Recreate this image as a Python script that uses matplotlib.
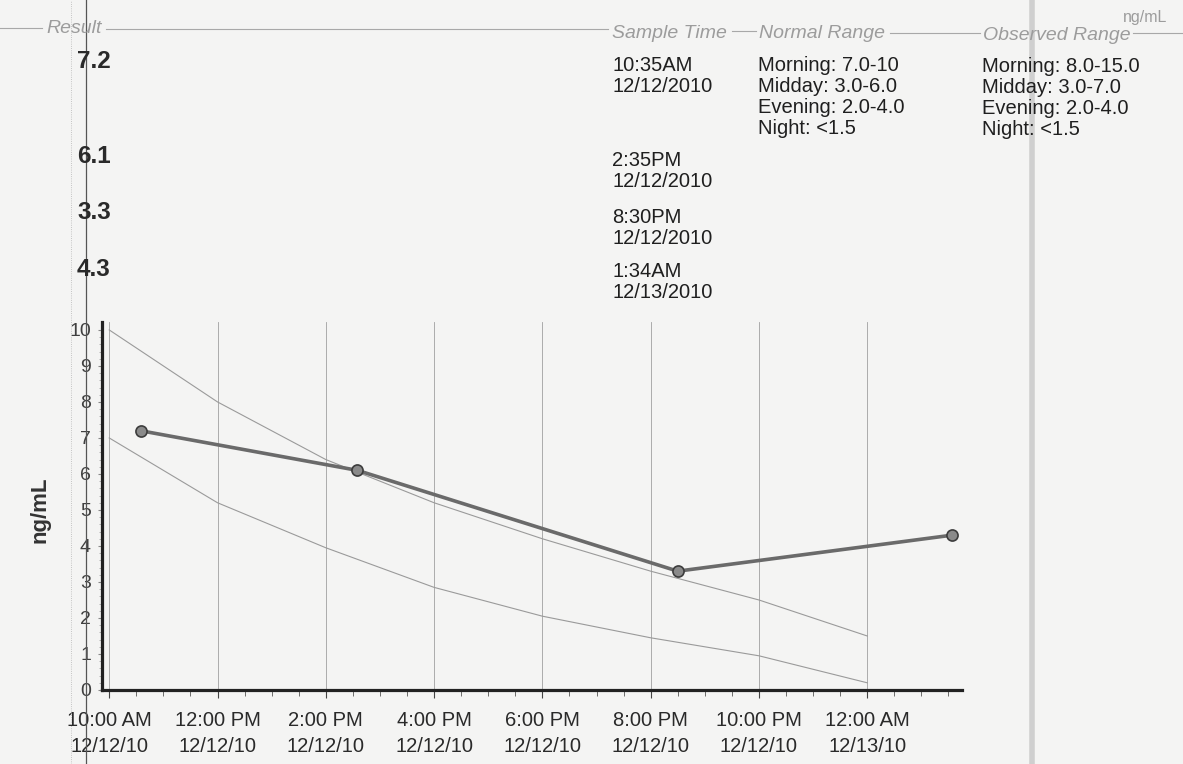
import pandas as pd
import matplotlib.pyplot as plt
import matplotlib.dates as mdates
from matplotlib.lines import Line2D

# sample results
sample_times = ["2010-12-12 10:35", "2010-12-12 14:35", "2010-12-12 20:30", "2010-12-13 01:34"]
results = [7.2, 6.1, 3.3, 4.3]
time_text = ["10:35AM", "2:35PM", "8:30PM", "1:34AM"]
date_text = ["12/12/2010", "12/12/2010", "12/12/2010", "12/13/2010"]

# normal range band (read at each 2h grid line)
range_times = ["2010-12-12 10:00", "2010-12-12 12:00", "2010-12-12 14:00", "2010-12-12 16:00",
               "2010-12-12 18:00", "2010-12-12 20:00", "2010-12-12 22:00", "2010-12-13 00:00"]
normal_upper = [10.0, 8.0, 6.4, 5.2, 4.2, 3.3, 2.5, 1.5]
normal_lower = [7.0, 5.2, 3.95, 2.85, 2.05, 1.45, 0.95, 0.2]

tick_labels = ["10:00 AM\n12/12/10", "12:00 PM\n12/12/10", "2:00 PM\n12/12/10", "4:00 PM\n12/12/10",
               "6:00 PM\n12/12/10", "8:00 PM\n12/12/10", "10:00 PM\n12/12/10", "12:00 AM\n12/13/10"]

normal_range = ["Morning: 7.0-10", "Midday: 3.0-6.0", "Evening: 2.0-4.0", "Night: <1.5"]
observed_range = ["Morning: 8.0-15.0", "Midday: 3.0-7.0", "Evening: 2.0-4.0", "Night: <1.5"]

plt.rcParams['font.family'] = ['Liberation Sans', 'DejaVu Sans']

W, H = 1183, 764
paper = '#f4f4f3'
ink = '#1f1f1f'
faint = '#9c9c9c'


def px(x, y):
    return x / W, 1 - y / H


fig = plt.figure(figsize=(W / 100, H / 100), dpi=100, facecolor=paper)

# scan artefacts: page rule on the left and the fold on the right
fig.add_artist(Line2D([71 / W, 71 / W], [0, 1], color='#b5b5b5', lw=0.6, ls=':'))
fig.add_artist(Line2D([86 / W, 86 / W], [0, 1], color='#555555', lw=0.9))
fig.add_artist(Line2D([1032 / W, 1032 / W], [0, 1], color='#cfcfcf', lw=4))

# header rules
for x0, x1, y in [(0, 42, 28), (106, 608, 29), (732, 756, 31), (890, 980, 33), (1133, 1183, 33)]:
    fig.add_artist(Line2D([x0 / W, x1 / W], [1 - y / H, 1 - y / H], color='#a8a8a8', lw=0.8))

hdr = dict(fontsize=14, style='italic', color=faint, va='baseline')
fig.text(*px(46, 33), "Result", **hdr)
fig.text(*px(612, 38), "Sample Time", **hdr)
fig.text(*px(759, 38), "Normal Range", **hdr)
fig.text(*px(983, 40), "Observed Range", **hdr)
fig.text(*px(1167, 22), "ng/mL", fontsize=11.5, color=faint, ha='right', va='baseline')

body = dict(fontsize=14.5, color=ink, va='baseline')
res_base = [68, 163, 219, 276]
time_base = [71, 166, 223, 277]
for v, t, d, yr, yt in zip(results, time_text, date_text, res_base, time_base):
    fig.text(*px(77, yr), f"{v:.1f}", fontsize=17.5, fontweight='bold', color='#2a2a2a', va='baseline')
    fig.text(*px(612, yt), t, **body)
    fig.text(*px(612, yt + 21), d, **body)

for i, (n, o) in enumerate(zip(normal_range, observed_range)):
    fig.text(*px(758, 71 + 21 * i), n, **body)
    fig.text(*px(982, 72 + 21 * i), o, **body)

# chart
ax = fig.add_axes([102 / W, 74 / H, 860 / W, 368 / H])
ax.set_facecolor('none')

st = pd.to_datetime(sample_times)
rt = pd.to_datetime(range_times)

ax.plot(rt, normal_upper, color='#9a9a9a', lw=0.8, zorder=2)
ax.plot(rt, normal_lower, color='#9a9a9a', lw=0.8, zorder=2)
ax.plot(st, results, color='#6a6a6a', lw=2.6, marker='o', markersize=8,
        markerfacecolor='#8a8a8a', markeredgecolor='#3c3c3c', markeredgewidth=1.2, zorder=3)

ax.set_xlim(rt[0] - pd.Timedelta(minutes=8), rt[-1] + pd.Timedelta(minutes=105))
ax.set_ylim(0, 10.22)

ax.set_xticks(rt)
ax.set_xticklabels(tick_labels, fontsize=14.5, color='#2a2a2a', linespacing=1.45)
ax.xaxis.set_minor_locator(mdates.MinuteLocator(byminute=[0, 30]))
ax.set_yticks(range(0, 11))
ax.set_yticks([i / 5 for i in range(0, 51)], minor=True)
ax.tick_params(axis='y', which='major', labelsize=14, labelcolor='#404040', length=3, pad=5, color='#888888')
ax.tick_params(axis='y', which='minor', length=2, color='#aaaaaa', width=0.6)
ax.tick_params(axis='x', which='major', length=6, pad=9, color='#444444')
ax.tick_params(axis='x', which='minor', length=4, color='#555555')

ax.grid(axis='x', which='major', color='#a0a0a0', lw=0.6)

for s in ['top', 'right']:
    ax.spines[s].set_visible(False)
for s in ['left', 'bottom']:
    ax.spines[s].set_linewidth(2.3)
    ax.spines[s].set_color('#222222')

fig.text(*px(40, 510), "ng/mL", rotation=90, fontsize=16, fontweight='bold', color='#333333',
         ha='center', va='center')

plt.savefig('out.png', dpi=100, facecolor=paper)
